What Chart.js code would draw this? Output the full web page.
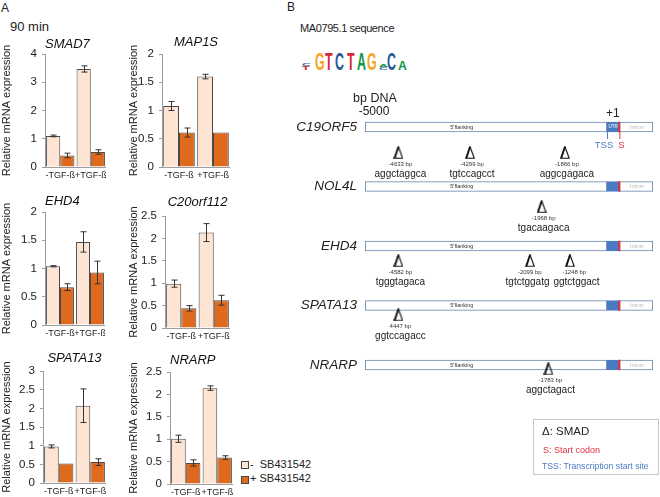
<!DOCTYPE html>
<html>
<head>
<meta charset="utf-8">
<script src="https://cdn.jsdelivr.net/npm/chart.js@4.4.1/dist/chart.umd.min.js"></script>
<style>
body { margin: 0; background: #fff; font-family: 'Liberation Sans', Arial, sans-serif; }
#page { position: relative; width: 660px; height: 497px; overflow: hidden; }
#page canvas, .t { position: absolute; }
.t { white-space: pre; color: #222; line-height: 1; }
</style>
</head>
<body>
<div id="page"></div>
<script>
// ---- panel A: qPCR bars ----
var genesA = ['SMAD7', 'MAP1S', 'EHD4', 'C20orf112', 'SPATA13', 'NRARP'];
var groups = ['-TGF-ß', '+TGF-ß'];
var seriesNames = ['-  SB431542', '+ SB431542'];
var minusSB    = [[1.10, 3.47], [1.08, 1.60], [1.04, 1.47], [0.99, 2.13], [0.98, 2.07], [1.01, 2.14]];
var minusSBErr = [[0.03, 0.11], [0.08, 0.04], [0.01, 0.18], [0.08, 0.20], [0.04, 0.45], [0.08, 0.05]];
var plusSB     = [[0.41, 0.53], [0.61, 0.61], [0.67, 0.93], [0.44, 0.62], [0.52, 0.56], [0.47, 0.59]];
var plusSBErr  = [[0.08, 0.08], [0.08, 0.00], [0.06, 0.20], [0.06, 0.11], [0.00, 0.09], [0.07, 0.04]];
var yMax = [4, 2, 2, 2.5, 3, 2.5];

// ---- panel B: promoter map ----
var promoterGenes = ['C19ORF5', 'NOL4L', 'EHD4', 'SPATA13', 'NRARP'];
var flankRange = [-5000, 0];
var utrRange = [0, 250];
var intronRange = [250, 950];
var startCodon = [240, 270];
var siteRow = [0, 0, 0, 1, 2, 2, 2, 3, 4];
// where each SMAD mark sits along the (schematic) bp axis
var siteAxisBp = [-4310, -2830, -870, -1350, -4310, -1590, -765, -4310, -1210];
var siteLabel = ['-4633 bp', '-4299 bp', '-1866 bp', '-1968 bp', '-4582 bp', '-2099 bp', '-1248 bp', '4447 bp', '-1783 bp'];
var siteSeq = ['aggctaggca', 'tgtccagcct', 'aggcgagaca', 'tgacaagaca', 'tgggtagaca', 'tgtctggatg', 'ggtctggact', 'ggtccagacc', 'aggctagact'];

var LIGHT = '#fde4d3', ORANGE = '#df6a1e', EDGE = '#4a4a4a', AXIS = '#9c9c9c';
var BOX = '#6a88b2', UTR = '#4a7bc2', RED = '#e0303f';

Chart.defaults.font.family = "'Liberation Sans', Arial, sans-serif";
var page = document.getElementById('page');

function label(text, x, y, css) {
	var d = document.createElement('div');
	d.className = 't';
	d.textContent = text;
	d.style.cssText = 'left:' + x + 'px;top:' + y + 'px;' + (css || '');
	page.appendChild(d);
	return d;
}

function makeCanvas(x, y, w, h) {
	var c = document.createElement('canvas');
	c.width = w; c.height = h;
	c.style.left = x + 'px'; c.style.top = y + 'px';
	page.appendChild(c);
	return c;
}

// error bars for the qPCR charts
var errorBars = {
	id: 'errorBars',
	afterDatasetsDraw: function(chart) {
		var ctx = chart.ctx, y = chart.scales.y;
		ctx.save();
		ctx.strokeStyle = '#333';
		ctx.lineWidth = 1;
		chart.data.datasets.forEach(function(ds, i) {
			chart.getDatasetMeta(i).data.forEach(function(bar, j) {
				var e = ds.errors[j];
				if (!e) return;
				var v = ds.data[j], x = Math.round(bar.x) + 0.5;
				var top = y.getPixelForValue(v + e), bot = y.getPixelForValue(v - e);
				ctx.beginPath();
				ctx.moveTo(x, top); ctx.lineTo(x, bot);
				ctx.moveTo(x - 3, top); ctx.lineTo(x + 3, top);
				ctx.moveTo(x - 3, bot); ctx.lineTo(x + 3, bot);
				ctx.stroke();
			});
		});
		ctx.restore();
	}
};

// canvas placement for each small chart
var layoutA = [
	{x: 0,   y: 37,  w: 106, h: 148, yw: 45, tb: 1.4, align: 'start'},
	{x: 127, y: 35,  w: 103, h: 150, yw: 35, tb: 3.4, align: 'center'},
	{x: 0,   y: 194, w: 105, h: 149, yw: 45, tb: 2.4, align: 'start'},
	{x: 127, y: 195, w: 103, h: 151, yw: 38, tb: 5.4, align: 'center'},
	{x: 0,   y: 351, w: 106, h: 150, yw: 43, tb: 4.4, align: 'center'},
	{x: 127, y: 353, w: 106, h: 149, yw: 43, tb: 3.4, align: 'start'}
];

genesA.forEach(function(gene, i) {
	var L = layoutA[i];
	var cv = makeCanvas(L.x, L.y, L.w, L.h);
	new Chart(cv.getContext('2d'), {
		type: 'bar',
		data: {
			labels: groups,
			datasets: [{
				label: seriesNames[0], data: minusSB[i], errors: minusSBErr[i],
				backgroundColor: LIGHT, borderColor: EDGE, borderWidth: 1
			}, {
				label: seriesNames[1], data: plusSB[i], errors: plusSBErr[i],
				backgroundColor: ORANGE, borderColor: EDGE, borderWidth: 1
			}]
		},
		options: {
			responsive: false,
			animation: false,
			datasets: {bar: {barPercentage: 1, categoryPercentage: 0.93}},
			plugins: {
				legend: {display: false},
				tooltip: {enabled: false},
				title: {
					display: true, text: gene, fullSize: false, align: L.align, color: '#111',
					font: {size: 13, style: 'italic', weight: 'normal'},
					padding: {top: 0, bottom: L.tb}
				}
			},
			scales: {
				x: {
					grid: {display: false, drawTicks: false},
					border: {color: AXIS},
					ticks: {color: '#222', font: {size: 9}, padding: 3, maxRotation: 0, autoSkip: false},
					afterFit: function(s) { s.height = 18; s.paddingLeft = 0; s.paddingRight = 0; }
				},
				y: {
					min: 0, max: yMax[i],
					ticks: {stepSize: 0.5, color: '#222', font: {size: 11.5}, padding: 5,
						callback: function(v) { return v; }},
					grid: {drawOnChartArea: false, tickLength: 3, color: AXIS},
					border: {color: AXIS},
					title: {display: true, text: 'Relative mRNA expression', color: '#222', font: {size: 11}, padding: 0},
					afterFit: function(s) { s.width = L.yw; s.paddingTop = 0; s.paddingBottom = 0; }
				}
			}
		},
		plugins: [errorBars]
	});
});

// legend of panel A
[LIGHT, ORANGE].forEach(function(col, k) {
	var b = document.createElement('div');
	b.style.cssText = 'position:absolute;left:241px;top:' + (461 + k * 15) + 'px;width:6px;height:6px;border:1px solid #444;background:' + col;
	page.appendChild(b);
	label(seriesNames[k], 250, 459 + k * 14, 'font-size:11px;');
});

label('A', 1, 2, 'font-size:12px;');
label('90 min', 10, 20, 'font-size:13px;');
label('B', 287, 1, 'font-size:12px;');
label('MA0795.1 sequence', 300, 23, 'font-size:11px;letter-spacing:-0.4px;');

// sequence logo
function logoLetter(ch, color, x, base, h) {
	return label(ch, x, base - 16.9, 'font:bold 20px "Liberation Sans";line-height:20px;color:' + color +
		';transform-origin:0 16.9px;transform:scale(0.62,' + (h / 14.3).toFixed(3) + ');');
}
var A_ = '#109648', C_ = '#255c99', G_ = '#f5a623', T_ = '#d62839';
logoLetter('T', T_, 302, 70, 3.5);
logoLetter('C', C_, 302, 66.3, 2.5);
logoLetter('G', G_, 315, 70, 17);
logoLetter('T', T_, 325, 70, 17);
logoLetter('C', C_, 335, 70, 17);
logoLetter('T', T_, 347, 70, 17);
logoLetter('A', A_, 357, 70, 17);
logoLetter('G', G_, 367, 70, 17);
logoLetter('C', C_, 379, 70, 3);
logoLetter('A', A_, 379, 66.5, 3);
logoLetter('C', C_, 387, 70, 17);
logoLetter('A', A_, 398, 70, 9);

// SMAD mark
var tri = document.createElement('canvas');
tri.width = 10; tri.height = 13;
var tc = tri.getContext('2d');
tc.strokeStyle = '#111';
tc.lineWidth = 1.1;
tc.beginPath(); tc.moveTo(5, 0.8); tc.lineTo(9.2, 12.3); tc.lineTo(0.8, 12.3); tc.closePath(); tc.stroke();
tc.lineWidth = 1.8;
tc.beginPath(); tc.moveTo(5, 0.8); tc.lineTo(1.3, 12.3); tc.stroke();

var SITE_DY = 0.27;

var geneText = {
	id: 'geneText',
	afterDatasetsDraw: function(chart) {
		var ctx = chart.ctx, x = chart.scales.x, y = chart.scales.y;
		ctx.save();
		ctx.textAlign = 'center';
		ctx.textBaseline = 'middle';
		promoterGenes.forEach(function(g, i) {
			var cy = y.getPixelForValue(i);
			ctx.font = "5.5px 'Liberation Sans'";
			ctx.fillStyle = '#333';
			ctx.fillText("5'flanking", x.getPixelForValue(-3000), cy);
			ctx.fillStyle = '#bbb';
			ctx.fillText('Intron', x.getPixelForValue(620), cy);
			if (i === 0) {
				ctx.fillStyle = '#fff';
				ctx.font = "4.5px 'Liberation Sans'";
				ctx.fillText('UTR', x.getPixelForValue(125), cy);
				// TSS / start codon ticks under the first gene
				ctx.lineWidth = 1;
				ctx.strokeStyle = UTR;
				ctx.beginPath(); ctx.moveTo(x.getPixelForValue(0) + 0.5, cy + 5); ctx.lineTo(x.getPixelForValue(0) + 0.5, cy + 12); ctx.stroke();
				ctx.strokeStyle = RED;
				ctx.beginPath(); ctx.moveTo(x.getPixelForValue(255) + 0.5, cy + 5); ctx.lineTo(x.getPixelForValue(255) + 0.5, cy + 12); ctx.stroke();
				ctx.font = "9.5px 'Liberation Sans'";
				ctx.fillStyle = UTR;
				ctx.fillText('TSS', x.getPixelForValue(0) - 3, cy + 18);
				ctx.fillStyle = RED;
				ctx.fillText('S', x.getPixelForValue(255) + 2, cy + 18);
				ctx.fillStyle = '#222';
				ctx.font = "12px 'Liberation Sans'";
				ctx.fillText('+1', x.getPixelForValue(120), cy - 13);
				ctx.fillText('-5000', x.getPixelForValue(-5000) + 9, cy - 15);
				ctx.font = "12.5px 'Liberation Sans'";
				ctx.fillText('bp DNA', x.getPixelForValue(-5000) + 10, cy - 28);
			}
		});
		// sequence text under each mark, nudged apart when neighbours would touch
		ctx.font = "10px 'Liberation Sans'";
		var pts = chart.getDatasetMeta(1).data;
		var cx = pts.map(function(pt) { return pt.x + 2; });
		for (var k = 1; k < pts.length; k++) {
			if (siteRow[k] !== siteRow[k - 1]) continue;
			var need = (ctx.measureText(siteSeq[k]).width + ctx.measureText(siteSeq[k - 1]).width) / 2 + 4;
			var gap = cx[k] - cx[k - 1];
			if (gap < need) { cx[k - 1] -= (need - gap) / 2; cx[k] += (need - gap) / 2; }
		}
		pts.forEach(function(pt, k) {
			ctx.fillStyle = '#333';
			ctx.font = "6px 'Liberation Sans'";
			ctx.fillText(siteLabel[k], (pt.x + 2 + cx[k]) / 2, pt.y + 12);
			ctx.fillStyle = '#222';
			ctx.font = "10px 'Liberation Sans'";
			ctx.fillText(siteSeq[k], cx[k], pt.y + 21.5);
		});
		ctx.restore();
	}
};

function rows(range) { return promoterGenes.map(function() { return range; }); }

var cvB = makeCanvas(275, 80, 385, 340);
new Chart(cvB.getContext('2d'), {
	type: 'bar',
	data: {
		labels: promoterGenes,
		datasets: [{
			label: 'start codon', data: rows(startCodon), yAxisID: 'y',
			backgroundColor: RED, borderWidth: 0
		}, {
			type: 'scatter', label: 'SMAD', indexAxis: 'x', xAxisID: 'x', yAxisID: 'yPts',
			data: siteAxisBp.map(function(b, k) { return {x: b, y: siteRow[k] + SITE_DY}; }),
			pointStyle: tri, pointRadius: 6
		}, {
			label: 'UTR', data: rows(utrRange), yAxisID: 'y',
			backgroundColor: UTR, borderColor: UTR
		}, {
			label: "5'flanking", data: rows(flankRange), yAxisID: 'y',
			backgroundColor: '#fff', borderColor: BOX
		}, {
			label: 'Intron', data: rows(intronRange), yAxisID: 'y',
			backgroundColor: '#fff', borderColor: BOX
		}]
	},
	options: {
		indexAxis: 'y',
		responsive: false,
		animation: false,
		datasets: {bar: {grouped: false, barThickness: 10, borderWidth: 1.2, borderSkipped: false}},
		layout: {padding: {top: 17.25, bottom: 25.25, right: 7}},
		plugins: {legend: {display: false}, tooltip: {enabled: false}},
		scales: {
			x: {type: 'linear', min: -5000, max: 950, display: false},
			y: {
				type: 'category',
				grid: {display: false, drawTicks: false},
				border: {display: false},
				ticks: {color: '#222', font: {size: 13.5, style: 'italic'}, padding: 8},
				afterFit: function(s) { s.width = 90; s.paddingTop = 0; s.paddingBottom = 0; }
			},
			yPts: {type: 'linear', min: -0.5, max: 4.5, reverse: true, display: false}
		}
	},
	plugins: [geneText]
});

// key box of panel B
var key = document.createElement('div');
key.style.cssText = 'position:absolute;left:533px;top:419px;width:124px;height:54px;border:1px solid #c8c8c8;';
page.appendChild(key);
label('\u0394: SMAD', 542, 426, 'font-size:11.5px;');
label('S: Start codon', 543, 445.5, 'font-size:9px;color:' + RED + ';');
label('TSS: Transcription start site', 542, 461.5, 'font-size:8.7px;color:' + UTR + ';');
</script>
</body>
</html>
